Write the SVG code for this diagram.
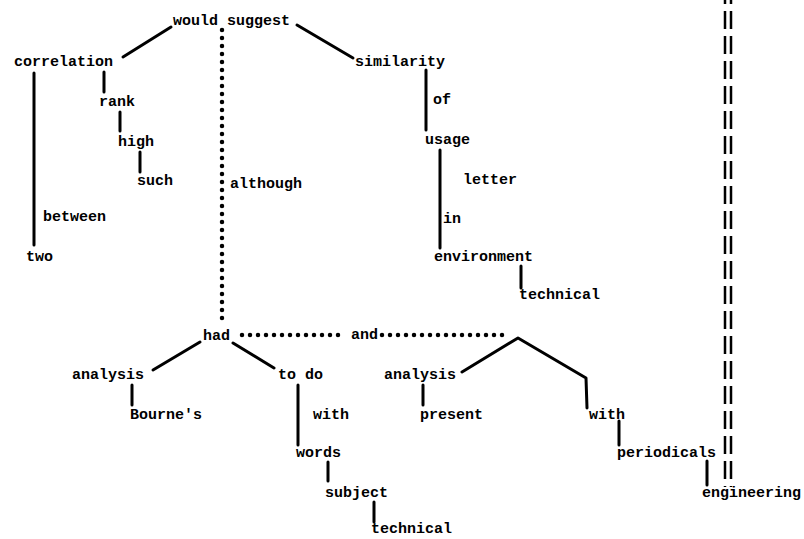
<svg xmlns="http://www.w3.org/2000/svg" width="804" height="539" viewBox="0 0 804 539">
<style>
text{font-family:"Liberation Mono","DejaVu Sans Mono",monospace;font-weight:bold;font-size:15px;fill:#000}
.s{stroke:#000;stroke-width:3;fill:none;stroke-linecap:round;stroke-linejoin:round}
.d{stroke:#000;stroke-width:4.5;fill:none;stroke-linecap:round;stroke-dasharray:0 8}
.dd{stroke:#000;stroke-width:2.5;fill:none;stroke-dasharray:18 7}
</style>
<rect width="804" height="539" fill="#fff"/>
<g id="connectors">
<path class="s" d="M171,27 L123,57"/>
<path class="s" d="M297,25 L353,58"/>
<path class="s" d="M34,73 V245"/>
<path class="s" d="M104,72 V92"/>
<path class="s" d="M120,112 V131"/>
<path class="s" d="M140,152 V172"/>
<path class="d" d="M222,30 V326"/>
<path class="s" d="M426,70 V130"/>
<path class="s" d="M440,150 V248"/>
<path class="s" d="M521,266 V288"/>
<path class="s" d="M200,342 L153,370"/>
<path class="s" d="M233,343 L274,368"/>
<path class="d" d="M242,335 H346"/>
<path class="d" d="M382,335 H507"/>
<path class="s" d="M132,385 V405"/>
<path class="s" d="M298,385 V445"/>
<path class="s" d="M328,462 V481"/>
<path class="s" d="M374,502 V522"/>
<path class="s" d="M462,372 L518,338 L586,378 L587,408"/>
<path class="s" d="M423,385 V405"/>
<path class="s" d="M619,421 V445"/>
<path class="s" d="M707,461 V485"/>
<path class="dd" d="M725,-14 V487"/>
<path class="dd" d="M731,-14 V487"/>
</g>
<g id="n-would-suggest"><text x="173" y="25">would suggest</text></g>
<g id="n-correlation"><text x="14" y="66">correlation</text></g>
<g id="n-similarity"><text x="355" y="66">similarity</text></g>
<g id="n-rank"><text x="99" y="106">rank</text></g>
<g id="n-high"><text x="118" y="146">high</text></g>
<g id="n-such"><text x="137" y="185">such</text></g>
<g id="n-although"><text x="230" y="188">although</text></g>
<g id="n-between"><text x="43" y="221">between</text></g>
<g id="n-two"><text x="26" y="261">two</text></g>
<g id="n-of"><text x="433" y="104">of</text></g>
<g id="n-usage"><text x="425" y="144">usage</text></g>
<g id="n-letter"><text x="463" y="184">letter</text></g>
<g id="n-in"><text x="443" y="223">in</text></g>
<g id="n-environment"><text x="434" y="261">environment</text></g>
<g id="n-technical1"><text x="519" y="299">technical</text></g>
<g id="n-had"><text x="203" y="340">had</text></g>
<g id="n-and"><text x="351" y="339">and</text></g>
<g id="n-analysis1"><text x="72" y="379">analysis</text></g>
<g id="n-bournes"><text x="130" y="419">Bourne's</text></g>
<g id="n-todo"><text x="278" y="379">to do</text></g>
<g id="n-with1"><text x="313" y="419">with</text></g>
<g id="n-words"><text x="296" y="457">words</text></g>
<g id="n-subject"><text x="325" y="497">subject</text></g>
<g id="n-technical2"><text x="371" y="533">technical</text></g>
<g id="n-analysis2"><text x="384" y="379">analysis</text></g>
<g id="n-present"><text x="420" y="419">present</text></g>
<g id="n-with2"><text x="589" y="419">with</text></g>
<g id="n-periodicals"><text x="617" y="457">periodicals</text></g>
<g id="n-engineering"><text x="702" y="497">engineering</text></g>
</svg>
